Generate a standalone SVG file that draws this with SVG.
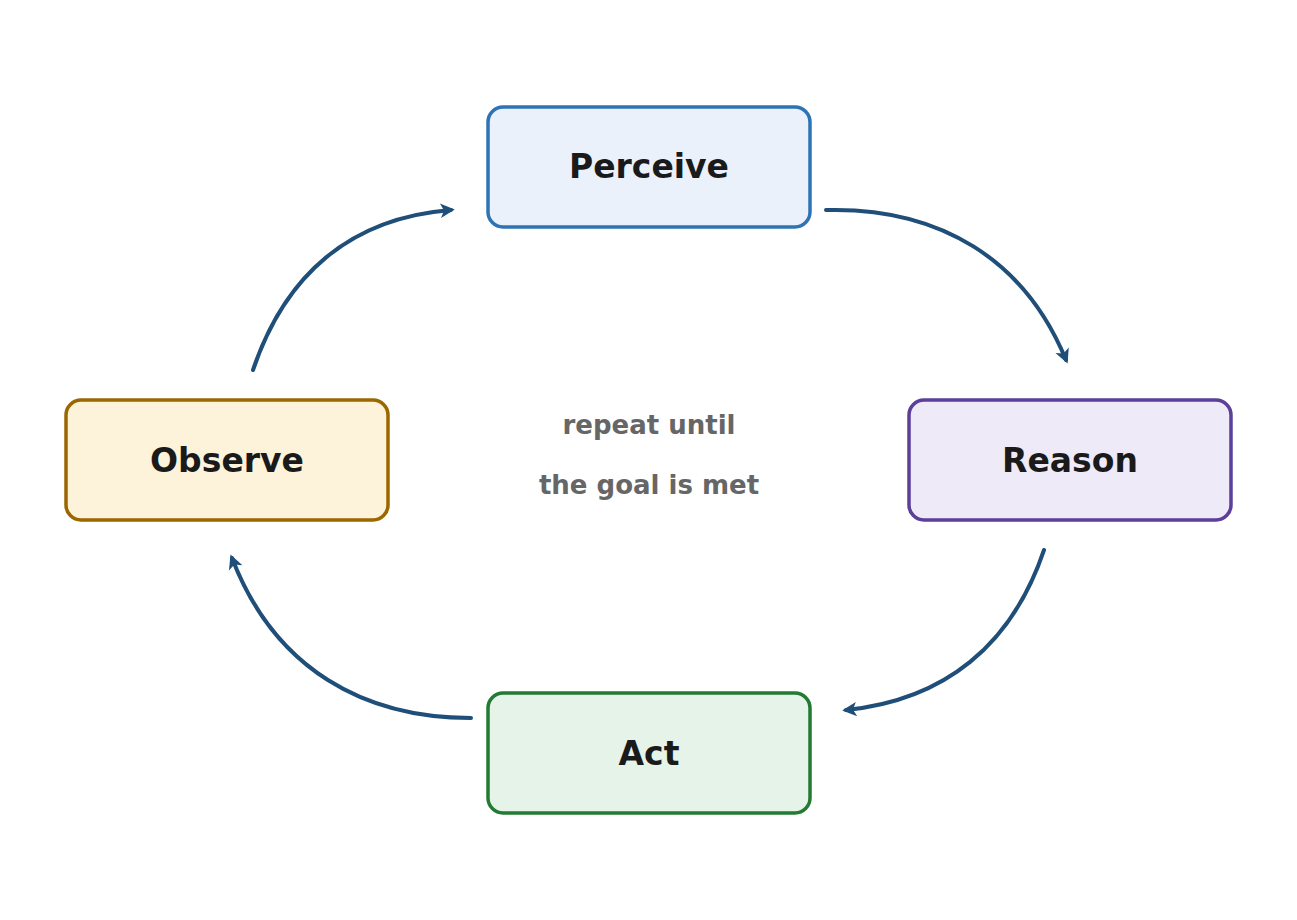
<svg xmlns="http://www.w3.org/2000/svg" width="1297" height="920" viewBox="0 0 1297 920">
<style>
.box{stroke-width:3.5}
.lbl{font-family:"DejaVu Sans",sans-serif;font-weight:bold;font-size:33px;fill:#1a1a1a;text-anchor:middle;dominant-baseline:central}
.note{font-family:"DejaVu Sans",sans-serif;font-weight:bold;font-size:26px;fill:#666;text-anchor:middle}
.c{fill:none;stroke:#1f4e79;stroke-width:4;stroke-linecap:round;marker-end:url(#ah)}
</style>
<defs>
<marker id="ah" viewBox="0 0 10 10" refX="8" refY="5" markerWidth="6" markerHeight="6" orient="auto" markerUnits="userSpaceOnUse" style="overflow:visible">
<path d="M0,0 L10,5 L0,10 L2.5,5 z" fill="#1f4e79" transform="scale(2.4) translate(-4,-3)"/>
</marker>
</defs>
<rect width="1297" height="920" fill="#fff"/>
<g id="perceive"><rect class="box" x="488" y="107" width="322" height="120" rx="15" fill="#eaf1fb" stroke="#2e74b5"/><text class="lbl" x="649" y="166">Perceive</text></g>
<g id="reason"><rect class="box" x="909" y="400" width="322" height="120" rx="15" fill="#eeeaf8" stroke="#5b3f99"/><text class="lbl" x="1070" y="460">Reason</text></g>
<g id="act"><rect class="box" x="488" y="693" width="322" height="120" rx="15" fill="#e6f3e8" stroke="#237a33"/><text class="lbl" x="649" y="753">Act</text></g>
<g id="observe"><rect class="box" x="66" y="400" width="322" height="120" rx="15" fill="#fdf3da" stroke="#9a6700"/><text class="lbl" x="227" y="460">Observe</text></g>
<g id="center"><text class="note" x="649" y="434">repeat until</text><text class="note" x="649" y="494">the goal is met</text></g>
<g id="connectors">
<path class="c" d="M826,210 C940,207 1025,260 1066,360"/>
<path class="c" d="M1044,550 C1012,645 945,700 846,710"/>
<path class="c" d="M471,718 C365,718 275,670 232,558"/>
<path class="c" d="M253,370 C285,275 350,218 451,210"/>
</g>
</svg>
